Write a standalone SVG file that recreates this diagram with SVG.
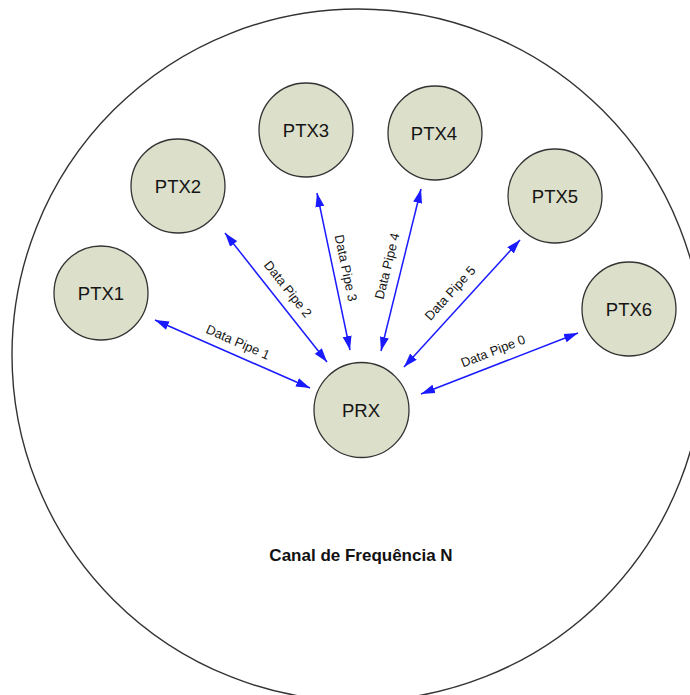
<svg xmlns="http://www.w3.org/2000/svg" width="690" height="695" viewBox="0 0 690 695">
  <style>
    .channel { fill: #ffffff; stroke: #333333; stroke-width: 1.4; }
    .node circle { fill: #dcdfca; stroke: #333333; stroke-width: 1.3; }
    .node text { font-family: "Liberation Sans", Arial, sans-serif; font-size: 18.5px; fill: #151515; text-anchor: middle; }
    .pipe { stroke: #1a1aff; stroke-width: 1.5; fill: none; marker-start: url(#head); marker-end: url(#head); }
    .pipe-label { font-family: "Liberation Sans", Arial, sans-serif; font-size: 13px; fill: #151515; text-anchor: middle; }
    .title { font-family: "Liberation Sans", Arial, sans-serif; font-size: 17px; font-weight: bold; fill: #111111; text-anchor: middle; }
  </style>
  <defs>
    <marker id="head" viewBox="0 0 14 10" refX="14" refY="5" markerWidth="14" markerHeight="10" markerUnits="userSpaceOnUse" orient="auto-start-reverse">
      <path d="M0,0.5 L14,5 L0,9.5 Z" fill="#1a1aff"/>
    </marker>
  </defs>

  <rect width="690" height="695" fill="#ffffff"/>

  <!-- frequency channel boundary -->
  <circle class="channel" cx="358" cy="355" r="346"/>
  <text class="title" x="361" y="561">Canal de Frequência N</text>

  <!-- data pipes -->
  <g id="connectors">
    <line class="pipe" x1="310" y1="388" x2="155" y2="320"/>
    <line class="pipe" x1="327" y1="362" x2="225" y2="233"/>
    <line class="pipe" x1="350" y1="350" x2="317" y2="193"/>
    <line class="pipe" x1="381" y1="351" x2="421" y2="189"/>
    <line class="pipe" x1="404" y1="367" x2="520" y2="240"/>
    <line class="pipe" x1="421" y1="394" x2="578" y2="333"/>

    <text class="pipe-label" transform="translate(238,342) rotate(23.7)" dy="0.35em">Data Pipe 1</text>
    <text class="pipe-label" transform="translate(288,289) rotate(51.7)" dy="0.35em">Data Pipe 2</text>
    <text class="pipe-label" transform="translate(346,268) rotate(78.1)" dy="0.35em">Data Pipe 3</text>
    <text class="pipe-label" transform="translate(387,266) rotate(-76.1)" dy="0.35em">Data Pipe 4</text>
    <text class="pipe-label" transform="translate(450,293) rotate(-47.6)" dy="0.35em">Data Pipe 5</text>
    <text class="pipe-label" transform="translate(493,351) rotate(-21.2)" dy="0.35em">Data Pipe 0</text>
  </g>

  <!-- transmitters and receiver -->
  <g id="ptx1" class="node">
    <circle cx="101" cy="293" r="47"/>
    <text x="101" y="299.5">PTX1</text>
  </g>
  <g id="ptx2" class="node">
    <circle cx="178" cy="186" r="47"/>
    <text x="178" y="192.5">PTX2</text>
  </g>
  <g id="ptx3" class="node">
    <circle cx="306" cy="130" r="47"/>
    <text x="306" y="136.5">PTX3</text>
  </g>
  <g id="ptx4" class="node">
    <circle cx="435" cy="133" r="47"/>
    <text x="434" y="139.5">PTX4</text>
  </g>
  <g id="ptx5" class="node">
    <circle cx="555" cy="196" r="47"/>
    <text x="555" y="202.5">PTX5</text>
  </g>
  <g id="ptx6" class="node">
    <circle cx="629" cy="309" r="47"/>
    <text x="629" y="315.5">PTX6</text>
  </g>
  <g id="prx" class="node">
    <circle cx="361.5" cy="410" r="47.5"/>
    <text x="361" y="416.5">PRX</text>
  </g>
</svg>
